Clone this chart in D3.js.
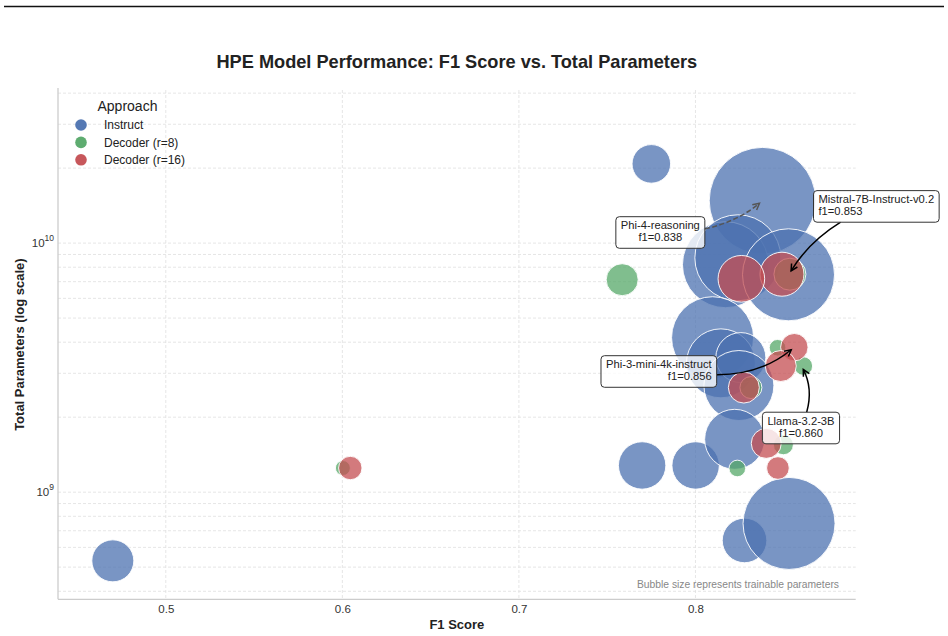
<!DOCTYPE html>
<html><head><meta charset="utf-8">
<script src="https://cdn.jsdelivr.net/npm/d3@7"></script>
<style>
body{margin:0;background:#fff}
svg text{font-family:"Liberation Sans",Arial,Helvetica,sans-serif}
</style>
</head><body>
<svg id="chart" width="948" height="636"></svg>
<script>
// ---------------- DATA ----------------
const approaches = ["Instruct", "Decoder (r=8)", "Decoder (r=16)"];
const approachColors = ["#4c72b0", "#55a868", "#c44e52"];

// Instruct models
const instructF1     = [0.470, 0.775, 0.838, 0.817, 0.824, 0.8527, 0.8097, 0.8144, 0.8257, 0.8246, 0.7698, 0.8001, 0.8222, 0.8278, 0.8530];
const instructParams = [5.3e8, 2.08e10, 1.48e10, 8.19e9, 8.73e9, 7.46e9, 4.17e9, 3.29e9, 3.47e9, 2.68e9, 1.28e9, 1.28e9, 1.63e9, 6.4e8, 7.49e8];
const instructSize   = [44.1, 37.2, 284.1, 184.9, 184.9, 211.6, 168.1, 119.0, 62.5, 122.5, 56.2, 56.2, 90.0, 49.7, 211.6];

// Decoder (r=8)
const dec8F1     = [0.6003, 0.7585, 0.8535, 0.8314, 0.8465, 0.8611, 0.8237, 0.8498];
const dec8Params = [1.25e9, 7.13e9, 7.5e9, 2.63e9, 3.80e9, 3.21e9, 1.245e9, 1.55e9];
const dec8Size   = [5.6, 25.6, 25.6, 12.1, 6.9, 8.6, 6.9, 10.0];

// Decoder (r=16)
const dec16F1     = [0.6045, 0.849, 0.826, 0.8274, 0.856, 0.8483, 0.8401, 0.8467];
const dec16Params = [1.25e9, 7.5e9, 7.19e9, 2.63e9, 3.82e9, 3.21e9, 1.57e9, 1.25e9];
const dec16Size   = [13.7, 48.4, 54.3, 24.0, 18.8, 24.0, 22.5, 12.8];

// Annotations
const annoModels = ["Phi-4-reasoning", "Mistral-7B-Instruct-v0.2", "Phi-3-mini-4k-instruct", "Llama-3.2-3B"];
const annoF1     = [0.838, 0.853, 0.856, 0.860];
const annoParams = [1.48e10, 7.5e9, 3.82e9, 3.21e9];

const xTickValues = [0.5, 0.6, 0.7, 0.8];
const xTickLabels = ["0.5", "0.6", "0.7", "0.8"];
const yTickValues = [1e9, 1e10];
const yTickExp    = ["9", "10"];

const titleText = "HPE Model Performance: F1 Score vs. Total Parameters";
const xLabelText = "F1 Score";
const yLabelText = "Total Parameters (log scale)";
const legendTitle = "Approach";
const noteText = "Bubble size represents trainable parameters";

// ---------------- LAYOUT ----------------
const L = 58, R = 855.7, T = 90, B = 599.3;
const svg = d3.select("#chart");

const x = d3.scaleLinear().domain([0.43895, 0.89076]).range([L, R]);
const y = d3.scaleLog().domain([3.714e8, 4.118e10]).range([B, T]);
const rScale = d3.scaleSqrt().domain([0, 284.1]).range([0, 53.3]);

// top rule line
svg.append("line").attr("x1", 4).attr("x2", 944).attr("y1", 6.5).attr("y2", 6.5)
  .attr("stroke", "#111").attr("stroke-width", 1.3);

// grid
const gridColor = "#e0e0e0";
const yGrid = [];
for (let e = 8; e <= 10; e++) for (let m = 1; m <= 9; m++) {
  const v = m * Math.pow(10, e);
  if (v >= y.domain()[0] && v <= y.domain()[1]) yGrid.push(v);
}
svg.append("g").selectAll("line").data(yGrid).join("line")
  .attr("x1", L).attr("x2", R).attr("y1", d => y(d)).attr("y2", d => y(d))
  .attr("stroke", gridColor).attr("stroke-width", 0.8).attr("stroke-dasharray", "3,2");
svg.append("g").selectAll("line").data(xTickValues).join("line")
  .attr("x1", d => x(d)).attr("x2", d => x(d)).attr("y1", T).attr("y2", B)
  .attr("stroke", gridColor).attr("stroke-width", 0.8).attr("stroke-dasharray", "3,2");

// spines
svg.append("line").attr("x1", L).attr("x2", L).attr("y1", T - 2).attr("y2", B)
  .attr("stroke", "#cccccc").attr("stroke-width", 1.3);
svg.append("line").attr("x1", L).attr("x2", R).attr("y1", B).attr("y2", B)
  .attr("stroke", "#cccccc").attr("stroke-width", 1.3);

// axes via d3 axis (ticks hidden, labels styled)
const xAxis = d3.axisBottom(x).tickValues(xTickValues).tickFormat((d, i) => xTickLabels[i]).tickSize(0).tickPadding(6);
const gx = svg.append("g").attr("transform", `translate(0,${B})`).call(xAxis);
gx.select(".domain").remove();
gx.selectAll("text").attr("font-size", 11.5).attr("fill", "#333").attr("font-family", "Liberation Sans, Arial, sans-serif");

const gy = svg.append("g");
yTickValues.forEach((v, i) => {
  const t = gy.append("text").attr("x", 54).attr("y", y(v) + 4).attr("text-anchor", "end")
    .attr("font-size", 11.5).attr("fill", "#333");
  t.append("tspan").text("10");
  t.append("tspan").attr("dy", -6).attr("font-size", 8.5).text(yTickExp[i]);
});

// axis labels
svg.append("text").attr("x", (L + R) / 2).attr("y", 629).attr("text-anchor", "middle")
  .attr("font-size", 13).attr("font-weight", "bold").attr("fill", "#222").text(xLabelText);
svg.append("text").attr("transform", `translate(24,${(T + B) / 2}) rotate(-90)`).attr("text-anchor", "middle")
  .attr("font-size", 13).attr("font-weight", "bold").attr("fill", "#222").text(yLabelText);

// title
svg.append("text").attr("x", (L + R) / 2).attr("y", 68).attr("text-anchor", "middle")
  .attr("font-size", 18.2).attr("font-weight", "bold").attr("fill", "#222").text(titleText);

// bubbles
const groups = [
  {f1: instructF1, p: instructParams, s: instructSize, c: approachColors[0]},
  {f1: dec8F1, p: dec8Params, s: dec8Size, c: approachColors[1]},
  {f1: dec16F1, p: dec16Params, s: dec16Size, c: approachColors[2]},
];
const gB = svg.append("g");
groups.forEach(g => {
  const pts = g.f1.map((f, i) => ({f, p: g.p[i], s: g.s[i]}));
  gB.append("g").selectAll("circle").data(pts).join("circle")
    .attr("cx", d => x(d.f)).attr("cy", d => y(d.p)).attr("r", d => rScale(d.s))
    .attr("fill", g.c).attr("fill-opacity", 0.75)
    .attr("stroke", "#fff").attr("stroke-opacity", 0.9).attr("stroke-width", 1);
});

// note
svg.append("text").attr("x", 839).attr("y", 587.5).attr("text-anchor", "end")
  .attr("font-size", 10.3).attr("fill", "#888").text(noteText);

// legend
const lg = svg.append("g");
lg.append("text").attr("x", 97.5).attr("y", 111).attr("font-size", 14).attr("fill", "#222").text(legendTitle);
approaches.forEach((a, i) => {
  const yy = 125 + i * 17.4;
  lg.append("circle").attr("cx", 81).attr("cy", yy).attr("r", 5.8).attr("fill", approachColors[i]).attr("fill-opacity", 0.95);
  lg.append("text").attr("x", 104).attr("y", yy + 4.3).attr("font-size", 12).attr("fill", "#222").text(a);
});

// annotations
const annoLayout = [
  {dx: -102.2, dy: 31.8, align: "middle", start: "right", sdy: -3.5, rad: 0.12, dashed: true},
  {dx: 87.3, dy: -67.8, align: "start", start: "bottom", sdx: -35.7, rad: 0.12, dashed: false},
  {dx: -135.5, dy: 24.3, align: "end", start: "right", sdy: 3.2, rad: 0.18, dashed: false},
  {dx: -0.4, dy: 62, align: "middle", start: "top", sdx: 5.7, rad: 0.2, dashed: false},
];
const gA = svg.append("g");
annoModels.forEach((m, i) => {
  const lay = annoLayout[i];
  const tx = x(annoF1[i]), ty = y(annoParams[i]);
  const cx = tx + lay.dx, cy = ty + lay.dy;
  const lines = [m, "f1=" + annoF1[i].toFixed(3)];
  const g = gA.append("g");
  const rect = g.append("rect");
  const text = g.append("text").attr("font-size", 11.2).attr("fill", "#222");
  const spans = lines.map(l => text.append("tspan").text(l));
  const widths = spans.map(s => s.node().getComputedTextLength());
  const w = Math.max(...widths) + 10, h = 31.6;
  const left = cx - w / 2, top = cy - h / 2;
  rect.attr("x", left).attr("y", top).attr("width", w).attr("height", h).attr("rx", 3.5)
    .attr("fill", "#fff").attr("fill-opacity", 0.8).attr("stroke", "#333").attr("stroke-width", 1);
  const ax = lay.align === "middle" ? cx : (lay.align === "start" ? left + 5 : left + w - 5);
  text.attr("text-anchor", lay.align);
  spans.forEach((s, k) => s.attr("x", ax).attr("y", top + 12.3 + k * 12.4));
  // arrow
  let sx, sy;
  if (lay.start === "right") { sx = left + w; sy = cy + lay.sdy; }
  else if (lay.start === "bottom") { sx = cx + lay.sdx; sy = top + h; }
  else { sx = cx + lay.sdx; sy = top; }
  const mx = (sx + tx) / 2, my = (sy + ty) / 2, ddx = tx - sx, ddy = ty - sy;
  const qx = mx - lay.rad * ddy, qy = my + lay.rad * ddx;
  const ux = tx - qx, uy = ty - qy, ul = Math.hypot(ux, uy);
  const ex = tx - 4 * ux / ul, ey = ty - 4 * uy / ul;
  const col = lay.dashed ? "#555" : "#000";
  gA.append("path").attr("d", `M${sx},${sy}Q${qx},${qy} ${ex},${ey}`)
    .attr("fill", "none").attr("stroke", col).attr("stroke-width", 1.5)
    .attr("stroke-dasharray", lay.dashed ? "5,2.5" : null);
  const hx = ex - qx, hy = ey - qy, hl = Math.hypot(hx, hy);
  const vx = hx / hl, vy = hy / hl, HL = 6.5, HW = 3.4;
  const b1 = [ex - HL * vx - HW * vy, ey - HL * vy + HW * vx];
  const b2 = [ex - HL * vx + HW * vy, ey - HL * vy - HW * vx];
  gA.append("path").attr("d", `M${b1}L${ex},${ey}L${b2}`)
    .attr("fill", "none").attr("stroke", col).attr("stroke-width", 1.5);
  g.raise();
});
</script>
</body></html>
